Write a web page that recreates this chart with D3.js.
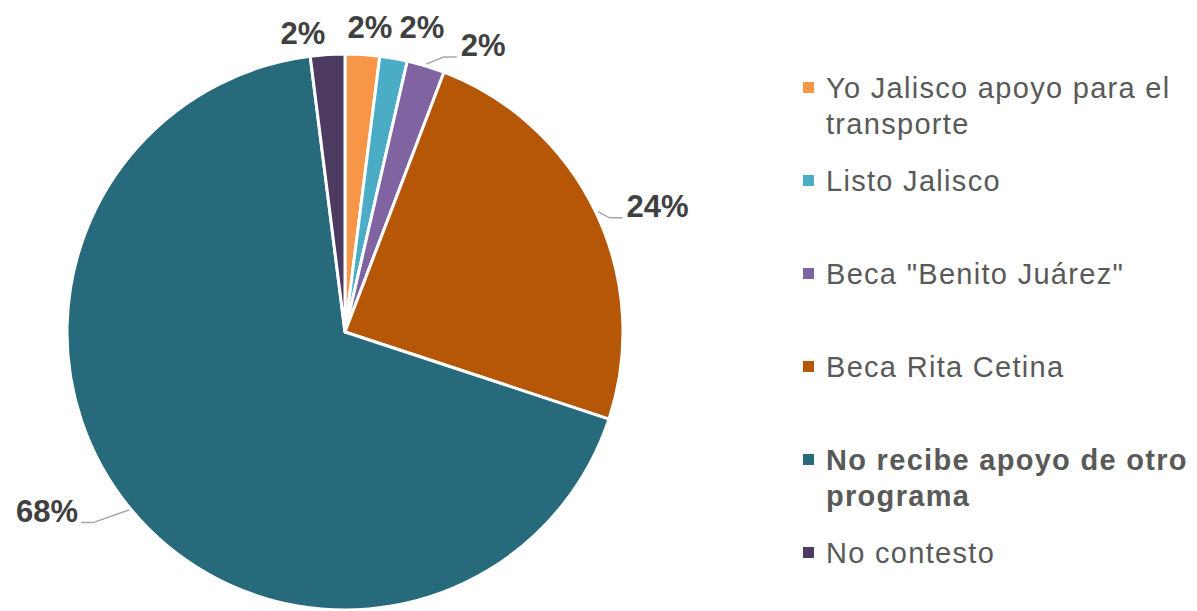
<!DOCTYPE html>
<html>
<head>
<meta charset="utf-8">
<script src="https://cdn.jsdelivr.net/npm/d3@7"></script>
<style>
  body { margin: 0; background: #fff; }
  svg { display: block; font-family: "Liberation Sans", Arial, sans-serif; }
</style>
</head>
<body>
<div id="chart"></div>
<script>
// data (clockwise from 12 o'clock)
const categories = ["Yo Jalisco apoyo para el transporte", "Listo Jalisco", "Beca \"Benito Juárez\"", "Beca Rita Cetina", "No recibe apoyo de otro programa", "No contesto"];
const values = [2.0, 1.6, 2.2, 24.3, 68.0, 2.0];
const labels = ["2%", "2%", "2%", "24%", "68%", "2%"];
const colors = ["#F79646", "#4BACC6", "#8064A2", "#B65708", "#276A7B", "#4D3A61"];
const legendLines = [["Yo Jalisco apoyo para el", "transporte"], ["Listo Jalisco"], ["Beca \"Benito Juárez\""], ["Beca Rita Cetina"], ["No recibe apoyo de otro", "programa"], ["No contesto"]];

const width = 1197, height = 611;
const cx = 345, cy = 332, radius = 278;

// label nudges away from the centroid (layout only)
const labelNudge = [[6, -3], [24, -7], [50, 3], [39, 4], [-64, -14], [-23, 3]];
const hasLeader = [false, false, true, true, true, false];

const svg = d3.select("#chart").append("svg")
  .attr("width", width)
  .attr("height", height);

const pie = d3.pie().sort(null).value(d => d);
const arcs = pie(values);

const arc = d3.arc().innerRadius(0).outerRadius(radius);
const labelArc = d3.arc().innerRadius(radius + 25).outerRadius(radius + 25);

const g = svg.append("g").attr("transform", `translate(${cx},${cy})`);

g.selectAll("path.slice")
  .data(arcs)
  .enter()
  .append("path")
  .attr("class", "slice")
  .attr("d", arc)
  .attr("fill", (d, i) => colors[i])
  .attr("stroke", "#fff")
  .attr("stroke-width", 3)
  .attr("stroke-linejoin", "round");

// labels
arcs.forEach((d, i) => {
  let c = labelArc.centroid(d);
  let lx = c[0] + labelNudge[i][0];
  let ly = c[1] + labelNudge[i][1];
  let mid = (d.startAngle + d.endAngle) / 2;
  let right = Math.sin(mid) >= 0;

  let txt = g.append("text")
    .attr("font-size", 31)
    .attr("font-weight", "bold")
    .attr("fill", "#404040")
    .attr("text-anchor", "middle")
    .attr("x", lx)
    .attr("y", ly + 11)
    .text(labels[i]);

  if (hasLeader[i]) {
    let w = txt.node().getComputedTextLength();
    let tx = right ? lx - w / 2 : lx + w / 2;
    let lineY = ly + 12;
    let edge = [Math.sin(mid) * (radius + 2), -Math.cos(mid) * (radius + 2)];
    let endX = right ? tx - 4 : tx + 3;
    let elbowX = right ? endX - 13 : endX + 12;
    g.append("path")
      .attr("d", d3.line()([edge, [elbowX, lineY], [endX, lineY]]))
      .attr("fill", "none")
      .attr("stroke", "#A6A6A6")
      .attr("stroke-width", 1.5);
  }
});

// legend
const legend = svg.append("g").attr("transform", "translate(803, 88)");
const legendStep = 93;

categories.forEach((cat, i) => {
  let item = legend.append("g").attr("transform", `translate(0, ${i * legendStep})`);
  item.append("rect")
    .attr("x", 0)
    .attr("y", -6)
    .attr("width", 11)
    .attr("height", 11)
    .attr("fill", colors[i]);
  let t = item.append("text")
    .attr("font-size", 29)
    .attr("letter-spacing", 1.3)
    .attr("fill", "#595959")
    .attr("font-weight", i === 4 ? "bold" : "normal");
  legendLines[i].forEach((ln, j) => {
    t.append("tspan")
      .attr("x", 23)
      .attr("y", 10 + j * 36)
      .text(ln);
  });
});
</script>
</body>
</html>
